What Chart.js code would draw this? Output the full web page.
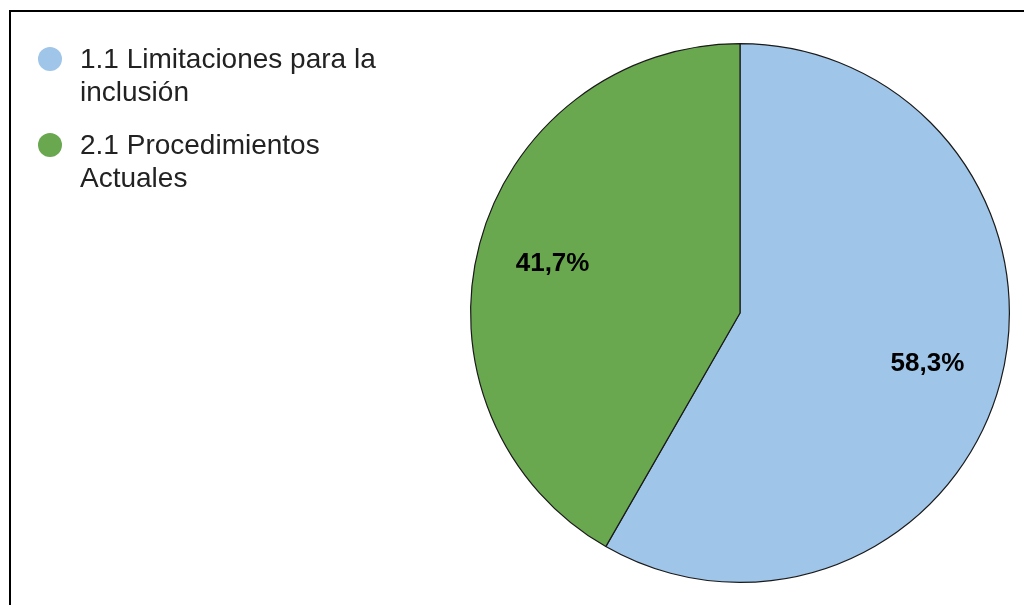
<!DOCTYPE html>
<html>
<head>
<meta charset="utf-8">
<script src="https://cdn.jsdelivr.net/npm/chart.js@4.4.1/dist/chart.umd.min.js"></script>
<style>
  html, body { margin: 0; padding: 0; background: #fff; width: 1024px; height: 605px; overflow: hidden; }
  #frame { position: absolute; left: 9px; top: 10px; right: -10px; bottom: -10px;
           border-top: 2px solid #000; border-left: 2px solid #000; }
  #chartBox { position: absolute; left: 0; top: 0; width: 1024px; height: 605px; }
  #legend { position: absolute; left: 38px; top: 42px;
            font-family: "Liberation Sans", Arial, sans-serif; font-size: 28px; color: #222; }
  .item { display: flex; align-items: flex-start; margin-bottom: 20px; }
  .dot { width: 24px; height: 24px; border-radius: 50%; margin-top: 5px; margin-right: 18px; flex: none; }
  .txt { width: 330px; line-height: 33px; }
</style>
</head>
<body>
<div id="frame"></div>
<div id="chartBox"><canvas id="c" width="1024" height="605"></canvas></div>
<div id="legend"></div>
<script>
// ---- data ----
const categories = ["1.1 Limitaciones para la inclusión", "2.1 Procedimientos Actuales"];
const percentValues = [58.3, 41.7];
const valueLabels = ["58,3%", "41,7%"];
const sliceColors = ["#9fc5e8", "#6aa84f"];

// HTML legend built from the same arrays
const legendEl = document.getElementById('legend');
categories.forEach((cat, i) => {
  const item = document.createElement('div');
  item.className = 'item';
  const dot = document.createElement('div');
  dot.className = 'dot';
  dot.style.background = sliceColors[i];
  const txt = document.createElement('div');
  txt.className = 'txt';
  txt.textContent = cat;
  item.appendChild(dot);
  item.appendChild(txt);
  legendEl.appendChild(item);
});

const sliceLabelPlugin = {
  id: 'sliceLabels',
  afterDatasetsDraw(chart) {
    const ctx = chart.ctx;
    const meta = chart.getDatasetMeta(0);
    ctx.save();
    ctx.font = 'bold 26px "Liberation Sans", Arial, sans-serif';
    ctx.fillStyle = '#000';
    ctx.textAlign = 'center';
    ctx.textBaseline = 'middle';
    meta.data.forEach((arc, i) => {
      const p = arc.getProps(['x', 'y', 'startAngle', 'endAngle', 'outerRadius'], true);
      const mid = (p.startAngle + p.endAngle) / 2;
      const r = p.outerRadius * 0.72;
      ctx.fillText(valueLabels[i], p.x + Math.cos(mid) * r, p.y + Math.sin(mid) * r + 1);
    });
    ctx.restore();
  }
};

new Chart(document.getElementById('c'), {
  type: 'pie',
  data: {
    labels: categories,
    datasets: [{
      data: percentValues,
      backgroundColor: sliceColors,
      borderColor: '#1a1a1a',
      borderWidth: 1.2
    }]
  },
  options: {
    responsive: false,
    animation: false,
    devicePixelRatio: 1,
    layout: { padding: { left: 470, right: 14, top: 43, bottom: 22 } },
    plugins: {
      legend: { display: false },
      tooltip: { enabled: false }
    }
  },
  plugins: [sliceLabelPlugin]
});
</script>
</body>
</html>
